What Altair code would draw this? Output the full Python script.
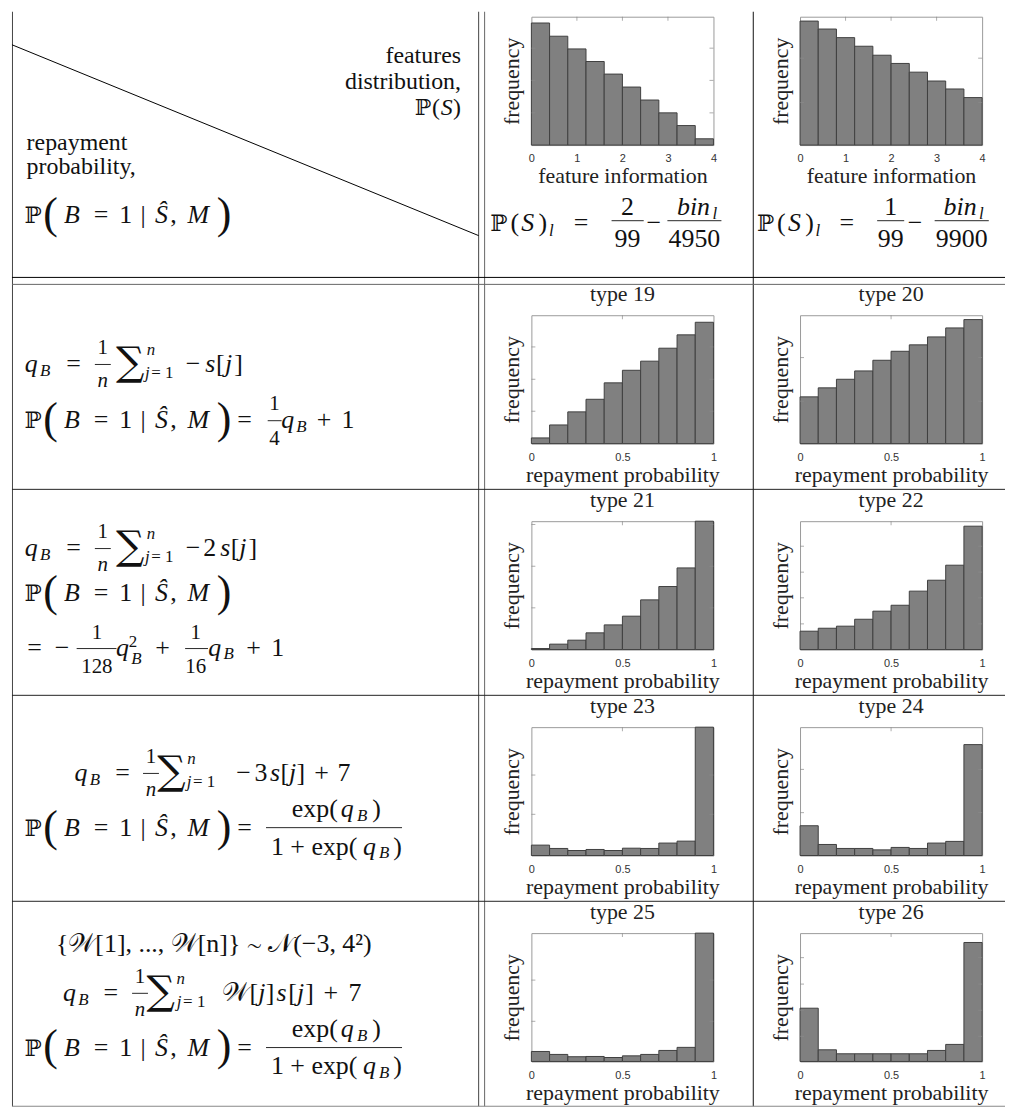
import altair as alt
import pandas as pd

# ---------------- data ----------------
feature_edges = [0.0, 0.4, 0.8, 1.2, 1.6, 2.0, 2.4, 2.8, 3.2, 3.6, 4.0]
repay_edges = [0.0, 0.1, 0.2, 0.3, 0.4, 0.5, 0.6, 0.7, 0.8, 0.9, 1.0]

feature_ticks = [0, 1, 2, 3, 4]
repay_ticks = [0, 0.5, 1]

# heights as a share of each panel's frequency axis
freq_features_a = [0.951, 0.848, 0.749, 0.651, 0.553, 0.452, 0.351, 0.251, 0.152, 0.049]
freq_features_b = [0.966, 0.904, 0.837, 0.770, 0.700, 0.636, 0.568, 0.499, 0.437, 0.370]
freq_type19 = [0.044, 0.145, 0.247, 0.345, 0.473, 0.571, 0.642, 0.743, 0.847, 0.945]
freq_type20 = [0.364, 0.434, 0.501, 0.566, 0.649, 0.719, 0.769, 0.831, 0.901, 0.966]
freq_type21 = [0.008, 0.042, 0.073, 0.130, 0.192, 0.260, 0.387, 0.491, 0.636, 1.000]
freq_type22 = [0.143, 0.166, 0.182, 0.236, 0.299, 0.345, 0.455, 0.540, 0.657, 0.961]
freq_type23 = [0.081, 0.055, 0.039, 0.047, 0.039, 0.057, 0.055, 0.097, 0.112, 1.000]
freq_type24 = [0.232, 0.086, 0.055, 0.055, 0.044, 0.063, 0.055, 0.097, 0.110, 0.864]
freq_type25 = [0.078, 0.055, 0.037, 0.039, 0.031, 0.044, 0.055, 0.086, 0.110, 1.000]
freq_type26 = [0.415, 0.091, 0.060, 0.060, 0.060, 0.060, 0.060, 0.086, 0.133, 0.927]

# inward tick marks on the (unlabelled) frequency axes
yt_features_a = [0.251, 0.504, 0.755]
yt_features_b = [0.331, 0.677]
yt_type19 = [0.252, 0.501, 0.753]
yt_type20 = [0.330, 0.670]
yt_type21 = [0.325, 0.649, 0.974]
yt_type22 = [0.200, 0.403, 0.603, 0.805]
yt_type23 = [0.321, 0.627]
yt_type24 = [0.334, 0.671]
yt_type25 = [0.313, 0.634]
yt_type26 = [0.196, 0.399, 0.603, 0.809]

type_titles = ["type 19", "type 20", "type 21", "type 22",
               "type 23", "type 24", "type 25", "type 26"]
x_title_features = "feature information"
x_title_repay = "repayment probability"
y_title = "frequency"

# ---------------- styling ----------------
SERIF = "Liberation Serif"
PFONT = "DejaVu Serif"
SANS = "Liberation Sans"
PW, PH = 183, 129          # histogram plot area
LW = 435                   # width of the left column cell
OX, OY = 8, 13             # page position of the left panel's origin
ONE = pd.DataFrame({"k": [0]})
INK = "#111111"
MS = 26                    # main math size
FS = 21                    # small fraction size
SS = 17                    # sub/superscript size


def hist(edges, freqs, yticks, xticks, xtitle, title=None):
    df = pd.DataFrame({"lo": edges[:-1], "hi": edges[1:], "freq": freqs,
                       "base": [0.0] * len(freqs)})
    xs = alt.Scale(domain=[edges[0], edges[-1]], nice=False, zero=False)
    ys = alt.Scale(domain=[0, 1], nice=False)
    xaxis = alt.Axis(values=xticks, format="~g", title=xtitle, grid=False,
                     ticks=False, tickSize=0, domain=False, labelFlush=False,
                     labelFont=SANS, labelFontSize=11, labelColor="#333333",
                     labelPadding=8, titleFont=SERIF, titleFontSize=22,
                     titleFontWeight="normal", titleColor="#222222",
                     titlePadding=2)
    yaxis = alt.Axis(title=y_title, labels=False, ticks=False, tickSize=0,
                     domain=False, grid=False, titleFont=SERIF,
                     titleFontSize=22, titleFontWeight="normal",
                     titleColor="#222222", titlePadding=8)
    bars = alt.Chart(df).mark_rect(fill="#808080", stroke="#404040",
                                   strokeWidth=1).encode(
        x=alt.X("lo:Q", scale=xs, axis=xaxis),
        x2="hi:Q",
        y=alt.Y("freq:Q", scale=ys, axis=yaxis),
        y2="base:Q",
    )
    ytk = pd.DataFrame({"freq": yticks})
    left_t = alt.Chart(ytk).mark_tick(orient="horizontal", size=4, thickness=1,
                                      color="#8a8a8a").encode(
        y=alt.Y("freq:Q", scale=ys, axis=yaxis), x=alt.value(2))
    right_t = alt.Chart(ytk).mark_tick(orient="horizontal", size=4, thickness=1,
                                       color="#8a8a8a").encode(
        y=alt.Y("freq:Q", scale=ys, axis=yaxis), x=alt.value(PW - 2))
    xtk = pd.DataFrame({"lo": xticks[1:-1]})
    top_t = alt.Chart(xtk).mark_tick(orient="vertical", size=4, thickness=1,
                                     color="#8a8a8a").encode(
        x=alt.X("lo:Q", scale=xs, axis=xaxis), y=alt.value(2))
    props = dict(width=PW, height=PH,
                 view=alt.ViewBackground(stroke="#9a9a9a", strokeWidth=1))
    if title:
        props["title"] = alt.TitleParams(title, font=SERIF, fontSize=22,
                                         fontWeight="normal", color="#222222",
                                         offset=9, anchor="middle")
    return alt.layer(bars, left_t, right_t, top_t).properties(**props)


# ---------------- table text and rules (left panel, drawn in page coords) ----
layers = []


def T(s, cx, by, size=MS, it=False, align="center", font=SERIF, color=INK):
    kw = dict(text=s, fontSize=size, font=font, align=align,
              baseline="alphabetic", color=color)
    if it:
        kw["fontStyle"] = "italic"
    layers.append(alt.Chart(ONE).mark_text(**kw).encode(
        x=alt.value(cx - OX), y=alt.value(by - OY)))


def R(x1, y1, x2, y2, color="#000000", w=1.0):
    layers.append(alt.Chart(ONE).mark_rule(color=color, strokeWidth=w).encode(
        x=alt.value(x1 - OX), y=alt.value(y1 - OY),
        x2=alt.value(x2 - OX), y2=alt.value(y2 - OY)))


def prob_expr(x0, b):
    T("\u2119", x0 + 6.5, b, size=23, font=PFONT)
    T("(", x0 + 24, b + 5, size=44)
    T("B", x0 + 45.5, b, it=True)
    T("=", x0 + 74.8, b)
    T("1", x0 + 99.6, b)
    T("|", x0 + 117.1, b)
    T("\u015c", x0 + 135.5, b, it=True)
    T(",", x0 + 147.5, b)
    T("M", x0 + 172.5, b, it=True)
    T(")", x0 + 198.5, b + 5, size=44)


def qB(cx, b):
    T("q", cx, b, it=True)
    T("B", cx + 14, b + 4, size=SS, it=True)


def one_over_n(cx, b):
    T("1", cx, b - 18, size=FS)
    R(cx - 8, b - 7.5, cx + 8, b - 7.5, color=INK, w=0.9)
    T("n", cx, b + 15, size=FS, it=True)


def sum_j(cx, b, supx, jx):
    T("\u2211", cx, b + 3, size=40, font=PFONT)
    T("n", supx + 1, b - 17, size=SS, it=True)
    T("j", jx + 1, b + 6, size=SS, it=True)
    T("= 1", jx + 5, b + 6, size=SS, align="left")


def exp_frac(b):
    R(263.3, b - 8, 400, b - 8, color=INK, w=0.9)
    T("exp(", 312.3, b - 19)
    T("q", 345, b - 19, it=True)
    T("B", 360, b - 15, size=SS, it=True)
    T(")", 374.5, b - 19)
    T("1 + exp(", 311.7, b + 19)
    T("q", 367.3, b + 19, it=True)
    T("B", 382, b + 23, size=SS, it=True)
    T(")", 395.5, b + 19)


# table rules
R(8.5, 8, 8.5, 1108, "#444444")
R(477, 8, 477, 1108, "#444444")
R(483, 8, 483, 1108, "#666666")
R(753, 8, 753, 1108, "#111111")
R(8, 275, 1006, 275, "#000000")
R(8, 282, 1006, 282, "#666666")
R(8, 488, 1006, 488, "#222222")
R(8, 695, 1006, 695, "#222222")
R(8, 902, 1006, 902, "#222222")
R(8, 1108, 1006, 1108, "#888888")
R(8, 41.2, 477, 233, "#000000")

# header, left cell
T("features", 459.3, 60, 24, align="right")
T("distribution,", 459.3, 86, 24, align="right")
T("\u2119", 421, 112, 22, font=PFONT)
T("(", 434, 112, 24)
T("S", 445, 112, 24, it=True)
T(")", 459.3, 112, 24, align="right")
T("repayment", 22.7, 147, 24, align="left")
T("probability,", 22.7, 171, 24, align="left")
prob_expr(22.7, 220)

# header, feature distributions
for (px, lpx, eqx, nx, num, bx0, bx1, mx, binx, lx, fx0, fx1, den) in [
        (497.4, 513.3, 580, 626.6, "2", 610.6, 642.9, 653, 692.9, 714.3, 666.7, 721, "4950"),
        (765.3, 781.3, 846.9, 891.1, "1", 877.5, 904.7, 915.6, 960.8, 982.2, 935.3, 989.7, "9900")]:
    b = 228
    T("\u2119", px, b, size=23, font=PFONT)
    T("(", lpx, b)
    T("S", lpx + 13, b, it=True)
    T(")", lpx + 28.3, b)
    T("l", lpx + 36.7, b + 5, size=SS, it=True)
    T("=", eqx, b)
    T(num, nx, b - 16)
    R(bx0, b - 10, bx1, b - 10, color=INK, w=0.9)
    T("99", nx, b + 16)
    T("\u2212", mx, b)
    T("bin", binx, b - 16, it=True)
    T("l", lx, b - 12, size=SS, it=True)
    R(fx0, b - 10, fx1, b - 10, color=INK, w=0.9)
    T(den, (fx0 + fx1) / 2, b + 16)

# row 1 (types 19, 20)
b = 370
qB(27.3, b)
T("=", 70, b)
one_over_n(99.3, b)
sum_j(126.7, b, 146.7, 143)
T("\u2212", 190, b)
T("s", 207.3, b, it=True)
T("[", 217.3, b)
T("j", 225.7, b, it=True)
T("]", 235.7, b)
b = 426
prob_expr(22.7, b)
T("=", 241.7, b)
T("1", 271.7, b - 18, size=FS)
R(265, b - 7, 279, b - 7, color=INK, w=0.9)
T("4", 271.7, b + 17, size=FS)
qB(285, b)
T("+", 321.7, b)
T("1", 345.7, b)

# row 2 (types 21, 22)
b = 555
qB(27.3, b)
T("=", 70, b)
one_over_n(99.3, b)
sum_j(126.7, b, 146.7, 143)
T("\u2212", 190, b)
T("2", 206.7, b)
T("s", 222.3, b, it=True)
T("[", 232.3, b)
T("j", 240, b, it=True)
T("]", 250, b)
prob_expr(22.7, 600)
b = 655
T("=", 30.7, b)
T("\u2212", 58.3, b)
T("1", 93.3, b - 17, size=FS)
R(73, b - 7, 113, b - 7, color=INK, w=0.9)
T("128", 93.3, b + 18, size=FS)
T("q", 119, b, it=True)
T("2", 129.5, b - 9, size=SS)
T("B", 133, b + 9, size=SS, it=True)
T("+", 159.3, b)
T("1", 192.7, b - 17, size=FS)
R(182, b - 7, 205, b - 7, color=INK, w=0.9)
T("16", 192.7, b + 18, size=FS)
qB(211.7, b)
T("+", 250.7, b)
T("1", 275, b)

# row 3 (types 23, 24)
b = 781
qB(77.3, b)
T("=", 119, b)
one_over_n(147.7, b)
sum_j(168.3, b, 187.3, 185)
T("\u2212", 240.7, b)
T("3", 258.3, b)
T("s", 272.3, b, it=True)
T("[", 282.3, b)
T("j", 290, b, it=True)
T("]", 298.3, b)
T("+", 319, b)
T("7", 341.7, b)
b = 836
prob_expr(22.7, b)
T("=", 241.7, b)
exp_frac(b)

# row 4 (types 25, 26)
T("{\U0001D4B2[1], ..., \U0001D4B2[n]} \u223c \U0001D4A9(\u22123, 4\u00b2)", 210.8, 953)
b = 1002
qB(65.7, b)
T("=", 107.3, b)
one_over_n(136.7, b)
sum_j(157.5, b, 176.7, 175)
T("\U0001D4B2", 233, b)
T("[", 251, b)
T("j", 259, b, it=True)
T("]", 267.5, b)
T("s", 279, b, it=True)
T("[", 290, b)
T("j", 298, b, it=True)
T("]", 307, b)
T("+", 328.3, b)
T("7", 352.7, b)
b = 1057
prob_expr(22.7, b)
T("=", 241.7, b)
exp_frac(b)

# the header-left cell is taller so that the first type row starts lower
left_panel = alt.layer(*layers).properties(width=LW, height=222)


def placeholder():
    return alt.Chart(ONE).mark_point(opacity=0).encode(
        x=alt.value(0), y=alt.value(0)).properties(width=LW, height=PH)


cells = [left_panel,
         hist(feature_edges, freq_features_a, yt_features_a, feature_ticks, x_title_features),
         hist(feature_edges, freq_features_b, yt_features_b, feature_ticks, x_title_features)]

pairs = [(freq_type19, yt_type19, freq_type20, yt_type20),
         (freq_type21, yt_type21, freq_type22, yt_type22),
         (freq_type23, yt_type23, freq_type24, yt_type24),
         (freq_type25, yt_type25, freq_type26, yt_type26)]
for i, (fa, ta, fb, tb) in enumerate(pairs):
    cells += [placeholder(),
              hist(repay_edges, fa, ta, repay_ticks, x_title_repay, type_titles[2 * i]),
              hist(repay_edges, fb, tb, repay_ticks, x_title_repay, type_titles[2 * i + 1])]

chart = alt.concat(*cells, columns=3, spacing=alt.RowColnumber(row=78, column=87),
                   bounds="flush", align="each").properties(
    padding=0, background="white"
).configure_view(stroke="transparent")

chart.save("out.html", embed_options={"renderer": "svg", "actions": False})
